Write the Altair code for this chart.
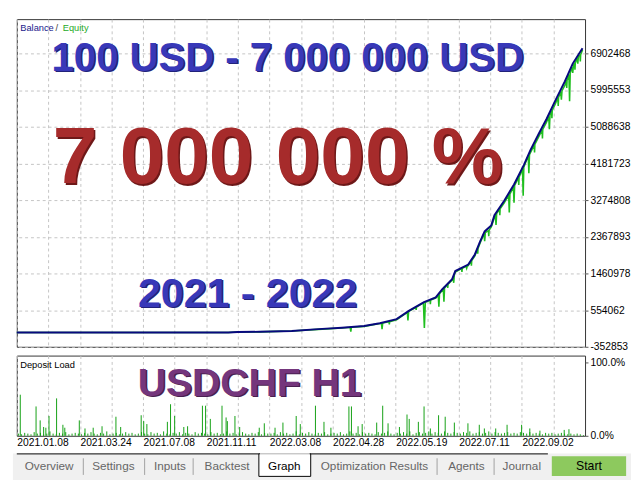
import altair as alt
import pandas as pd

# ---------------- data ----------------
# Balance curve: deal number -> balance (USD)
BAL_DEALS = [0, 300, 670, 700, 769, 871, 955, 1030, 1100, 1150, 1203, 1243, 1290,
             1327, 1348, 1379, 1389, 1430, 1451, 1467, 1482, 1503, 1513, 1544,
             1575, 1606, 1627, 1653, 1678, 1705, 1736, 1761, 1792]
BALANCE = [100, 100, 2000, 12000, 18000, 40000, 84000, 120000, 160000, 230000,
           330000, 540000, 750000, 870000, 1070000, 1320000, 1520000, 1680000,
           1930000, 2240000, 2500000, 2650000, 2900000, 3260000, 3660000,
           4140000, 4510000, 4910000, 5280000, 5720000, 6210000, 6650000, 7030000]

# Equity curve: deal number -> equity (USD)
EQ_DEALS = [0, 300, 670, 700, 769, 871, 955, 1030, 1056, 1058, 1060, 1100, 1150,
            1155, 1157, 1159, 1203, 1237, 1239, 1241, 1243, 1288, 1291, 1294,
            1327, 1335, 1337, 1339, 1348, 1351, 1353, 1355, 1379, 1382, 1384,
            1386, 1389, 1423, 1425, 1427, 1430, 1451, 1467, 1480, 1482, 1484,
            1503, 1513, 1516, 1518, 1520, 1544, 1558, 1560, 1562, 1573, 1575,
            1577, 1602, 1604, 1606, 1620, 1622, 1624, 1627, 1653, 1678, 1685,
            1687, 1689, 1705, 1723, 1725, 1727, 1736, 1749, 1751, 1753, 1759,
            1761, 1763, 1775, 1777, 1779, 1792]
EQUITY = [100, 100, 1500, 11000, 16000, 36000, 78000, 112000, 130000, 20000,
          132000, 152000, 222000, 230000, 80000, 236000, 318000, 500000, 300000,
          510000, 528000, 735000, 115000, 745000, 850000, 920000, 640000, 960000,
          1045000, 1080000, 760000, 1110000, 1295000, 1360000, 1230000, 1430000,
          1495000, 1640000, 1590000, 1645000, 1655000, 1895000, 2200000, 2450000,
          2260000, 2470000, 2610000, 2850000, 2890000, 2660000, 2940000, 3210000,
          3390000, 2970000, 3420000, 3600000, 3210000, 3640000, 4040000, 3380000,
          4090000, 4370000, 3940000, 4400000, 4450000, 4840000, 5200000, 5340000,
          5030000, 5380000, 5640000, 5950000, 5760000, 5980000, 6110000, 6380000,
          5720000, 6420000, 6560000, 6420000, 6600000, 6800000, 6650000, 6840000,
          6990000]
# smaller equity dips along the rise
EQ_DEALS_2 = [1179, 1180, 1181, 1264, 1265, 1266, 1309, 1310, 1311, 1364, 1365, 1366,
              1409, 1410, 1411, 1439, 1440, 1441, 1459, 1460, 1461, 1494, 1495, 1496,
              1529, 1530, 1531, 1589, 1590, 1591, 1639, 1640, 1641, 1664, 1665, 1666,
              1694, 1695, 1696, 1714, 1715, 1716, 1741, 1742, 1743, 1767, 1768, 1769,
              1784, 1785, 1786]
EQUITY_2 = [265000, 200000, 268000, 625000, 560000, 630000, 800000, 700000, 805000,
            1190000, 1100000, 1195000, 1580000, 1500000, 1585000, 1775000, 1650000,
            1780000, 2070000, 1950000, 2080000, 2520000, 2380000, 2530000, 3050000,
            2900000, 3060000, 3830000, 3650000, 3840000, 4640000, 4450000, 4650000,
            5010000, 4800000, 5020000, 5480000, 5300000, 5490000, 5800000, 5600000,
            5810000, 6230000, 6050000, 6240000, 6650000, 6500000, 6660000, 6860000,
            6700000, 6870000]

# Deposit load (%): background level every 10 deals starting at deal 5
LOAD_BASE = [3, 2, 4, 3, 2, 5, 3, 4, 2, 3, 6, 3, 2, 4, 3, 5, 2, 3, 4, 3,
             2, 4, 3, 5, 3, 2, 4, 3, 6, 2, 3, 4, 2, 3, 5, 3, 4, 2, 3, 5,
             3, 2, 5, 3, 4, 2, 6, 3, 2, 4, 3, 5, 2, 4, 3, 2, 5, 3, 4, 3,
             2, 5, 3, 4, 2, 3, 6, 3, 4, 2, 3, 5, 3, 2, 4, 3, 5, 2, 4, 3,
             3, 4, 2, 5, 3, 4, 2, 3, 6, 2, 4, 3, 5, 3, 2, 4, 3, 5, 2, 3,
             4, 3, 5, 2, 3, 6, 3, 4, 2, 5, 3, 4, 3, 2, 5, 3, 4, 6, 3, 2,
             4, 3, 5, 3, 6, 2, 4, 5, 3, 4, 6, 3, 5, 4, 3, 6, 4, 3, 5, 4,
             3, 5, 4, 6, 3, 4, 5, 3, 4, 6, 3, 5, 4, 3, 4, 5, 3, 4, 3, 5,
             4, 3, 5, 3, 4, 3, 2, 4, 3, 4, 2, 3, 4, 3, 2, 3, 2, 3, 2, 1]
# Deposit load spikes: deal number -> load (%)
SPIKE_DEALS = [11, 61, 74, 85, 92, 102, 126, 146, 152, 198, 216, 242, 270, 314,
               329, 394, 402, 412, 477, 487, 500, 529, 541, 588, 598, 613, 650,
               663, 667, 691, 706, 768, 784, 818, 843, 885, 898, 946, 973, 995,
               1052, 1060, 1081, 1094, 1140, 1159, 1176, 1212, 1236, 1243, 1272,
               1290, 1310, 1336, 1357, 1386, 1429, 1465, 1481, 1517, 1553, 1599,
               1625, 1657, 1734, 1749]
SPIKE_LOAD = [56, 40, 21, 12, 11, 27, 51, 15, 11, 21, 10, 11, 13, 26, 12, 28, 20,
              16, 19, 43, 27, 12, 13, 41, 41, 23, 41, 25, 20, 27, 12, 11, 17, 11,
              18, 27, 16, 41, 19, 11, 40, 40, 13, 16, 18, 41, 17, 12, 29, 23, 19,
              40, 10, 28, 26, 18, 17, 15, 10, 10, 15, 15, 10, 7, 8, 9]

Y_TICKS = [-352853, 554062, 1460978, 2367893, 3274808, 4181723, 5088638, 5995553, 6902468]
DATE_LABELS = ["2021.01.08", "2021.03.24", "2021.07.08", "2021.11.11", "2022.03.08",
               "2022.04.28", "2022.05.19", "2022.07.11", "2022.09.02"]
TITLE_TEXTS = ["100 USD - 7 000 000 USD", "7 000 000 %", "2021 - 2022", "USDCHF H1"]
TABS = ["Overview", "Settings", "Inputs", "Backtest", "Graph",
        "Optimization Results", "Agents", "Journal"]

# ---------------- styling ----------------
FONT = "Liberation Sans"
W = 581
H_TOP = 335
H_BOT = 82
X_MAX = 1800
GRID_DEALS = list(range(0, X_MAX, 100))

bal_df = pd.DataFrame({"deal": BAL_DEALS, "value": BALANCE})
eq_df = pd.concat([
    pd.DataFrame({"deal": EQ_DEALS, "value": EQUITY}),
    pd.DataFrame({"deal": EQ_DEALS_2, "value": EQUITY_2}),
]).sort_values("deal")
load_df = pd.concat([
    pd.DataFrame({"deal": [5 + 10 * i for i in range(len(LOAD_BASE))], "load": LOAD_BASE}),
    pd.DataFrame({"deal": SPIKE_DEALS, "load": SPIKE_LOAD}),
])
one = pd.DataFrame({"a": [0]})

x_top = alt.X("deal:Q", scale=alt.Scale(domain=[0, X_MAX], nice=False),
              axis=alt.Axis(values=GRID_DEALS, labels=False, ticks=False, domain=False,
                            title=None, grid=True))
y_top = alt.Y("value:Q", scale=alt.Scale(domain=[-352853, 7749000], nice=False, zero=False),
              axis=alt.Axis(orient="right", values=Y_TICKS, title=None, grid=True,
                            labelExpr="toString(datum.value)", domain=False,
                            ticks=True, tickSize=3, labelPadding=2))

equity = alt.Chart(eq_df).mark_line(color="#1fbf1f", strokeWidth=1.6).encode(
    x=x_top, y=y_top, order="deal:Q")
balance = alt.Chart(bal_df).mark_line(color="#08087e", strokeWidth=2).encode(x=x_top, y=y_top)


def big_text(txt, x, y, size, color, shadow):
    base = alt.Chart(one)
    s = base.mark_text(text=txt, font=FONT, fontWeight="bold", fontSize=size, color=shadow,
                       align="center", baseline="alphabetic", dx=1.5, dy=1.5).encode(
        x=alt.value(x), y=alt.value(y))
    m = base.mark_text(text=txt, font=FONT, fontWeight="bold", fontSize=size, color=color,
                       align="center", baseline="alphabetic").encode(
        x=alt.value(x), y=alt.value(y))
    return [s, m]


def small_text(txt, x, y, size, color, align="left", baseline="middle"):
    return alt.Chart(one).mark_text(text=txt, font=FONT, fontSize=size, color=color,
                                    align=align, baseline=baseline).encode(
        x=alt.value(x), y=alt.value(y))


top_layers = []
top_layers += big_text(TITLE_TEXTS[0], 277, 53, 41, "#3838b8", "#22227a")
top_layers += big_text(TITLE_TEXTS[1], 267, 168, 82, "#a62b2b", "#6e1818")
top_layers += big_text(TITLE_TEXTS[2], 236, 294, 42, "#3838b8", "#22227a")
top_layers += [
    small_text("Balance", 3.5, 9.5, 9.5, "#1a1a8c"),
    small_text("/", 39.5, 9.5, 9.5, "#404040"),
    small_text("Equity", 47, 9.5, 9.5, "#1faa1f"),
]
top = alt.layer(equity, balance, *top_layers).properties(width=W, height=H_TOP)

# ---------------- bottom panel ----------------
label_arr = []
for i in range(len(GRID_DEALS)):
    label_arr.append(DATE_LABELS[i // 2] if i % 2 == 0 and i // 2 < len(DATE_LABELS) else "")
label_expr = "[" + ",".join("'%s'" % s for s in label_arr) + "][round(datum.value/100)]"

x_bot = alt.X("deal:Q", scale=alt.Scale(domain=[0, X_MAX], nice=False),
              axis=alt.Axis(values=GRID_DEALS, labelExpr=label_expr, ticks=False, domain=False,
                            title=None, grid=True, labelAlign="left", labelBaseline="top",
                            labelPadding=2, labelOverlap=False, labelFlush=False,
                            labelBound=False))
y_bot = alt.Y("load:Q", scale=alt.Scale(domain=[0, 109.3], nice=False),
              axis=alt.Axis(orient="right", values=[0, 100], title=None, grid=False,
                            labelExpr="format(datum.value, '.1f') + '%'", domain=False,
                            ticks=True, tickSize=3, labelPadding=2))

load = alt.Chart(load_df).mark_rule(color="#12a012", strokeWidth=1).encode(
    x=x_bot, y=y_bot, y2=alt.datum(0))

bot_layers = [load]
bot_layers += big_text(TITLE_TEXTS[3], 238, 41, 40, "#74367c", "#4a1f50")
bot_layers.append(small_text("Deposit Load", 3.5, 9.5, 9.5, "#000000"))

# tab strip below the chart
bot_layers.append(alt.Chart(one).mark_rect(color="#f0f0f0").encode(
    x=alt.value(-4), x2=alt.value(628), y=alt.value(100), y2=alt.value(130)))
bot_layers.append(alt.Chart(one).mark_rule(color="#000000", strokeWidth=1).encode(
    x=alt.value(0), x2=alt.value(543), y=alt.value(100.5)))
bot_layers.append(alt.Chart(one).mark_rect(color="#ffffff", stroke="#000000", strokeWidth=1).encode(
    x=alt.value(247.5), x2=alt.value(300.5), y=alt.value(100.5), y2=alt.value(123.5)))
bot_layers.append(alt.Chart(one).mark_rule(color="#ffffff", strokeWidth=1.5).encode(
    x=alt.value(248.5), x2=alt.value(299.5), y=alt.value(100.5)))
for sx in [68, 130.7, 180.3, 429.7, 488]:
    bot_layers.append(alt.Chart(one).mark_rule(color="#a0a0a0", strokeWidth=1).encode(
        x=alt.value(sx), y=alt.value(105), y2=alt.value(122)))
tab_centers = [33, 98.7, 156.5, 215, 273.5, 365.7, 459.7, 516.3]
for name, cx in zip(TABS, tab_centers):
    bot_layers.append(small_text(name, cx, 117, 12, "#000000" if name == "Graph" else "#666666",
                                 align="center", baseline="alphabetic"))
bot_layers.append(alt.Chart(one).mark_rect(color="#8dc95e").encode(
    x=alt.value(547), x2=alt.value(623), y=alt.value(103), y2=alt.value(123)))
bot_layers.append(small_text("Start", 585, 117, 12.5, "#000000", align="center",
                             baseline="alphabetic"))

bottom = alt.layer(*bot_layers).properties(width=W, height=H_BOT)

chart = alt.vconcat(top, bottom, spacing=2).properties(
    padding={"left": 4, "top": 5, "right": 0, "bottom": 0},
    background="#ffffff",
).configure_view(stroke="#333333", strokeWidth=1).configure_axis(
    labelFont=FONT, labelFontSize=10.5, labelColor="#000000", tickColor="#555555",
    gridColor="#c4c4c4", gridDash=[3, 3], gridWidth=1,
)

chart.save("out.html", embed_options={"renderer": "svg", "actions": False})
